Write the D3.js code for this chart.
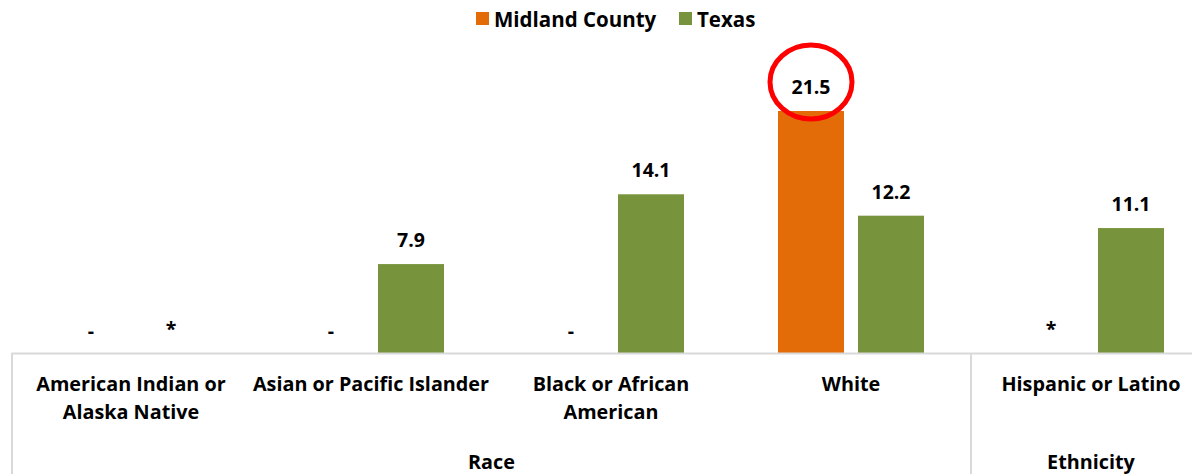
<!DOCTYPE html>
<html><head><meta charset="utf-8">
<script src="https://cdn.jsdelivr.net/npm/d3@7"></script>
<style>body{margin:0;background:#fff}svg{display:block}text{font-family:"Open Sans",Lato,sans-serif;font-weight:bold;fill:#000}</style>
</head><body><svg id="c" width="1192" height="474"></svg>
<script>
const categories = ["American Indian or\nAlaska Native","Asian or Pacific Islander","Black or African\nAmerican","White","Hispanic or Latino"];
const groups = ["Race","Race","Race","Race","Ethnicity"];
const seriesNames = ["Midland County","Texas"];
const midland = [null,null,null,21.5,null];
const midlandMarks = ["-","-","-","","*"];
const texas = [null,7.9,14.1,12.2,11.1];
const texasMarks = ["*","","","",""];
const colors = ["#E36C09","#77933C"];

const FS = 19.5;
const svg = d3.select("#c");
const baseY = 353;
const x0 = d3.scaleBand().domain(categories).range([11,1211]);
const x1 = d3.scaleBand().domain(seriesNames).range([47,193]).paddingInner(0.175);
const y = d3.scaleLinear().domain([0,21.5]).range([baseY,111]);

const series = [{name:seriesNames[0],vals:midland,marks:midlandMarks},{name:seriesNames[1],vals:texas,marks:texasMarks}];

series.forEach((s,si)=>{
  const g = svg.append("g");
  categories.forEach((c,i)=>{
    const v = s.vals[i];
    const bx = x0(c)+x1(s.name);
    const cx = bx + x1.bandwidth()/2;
    if(v!=null){
      g.append("rect").attr("x",bx).attr("y",y(v)).attr("width",x1.bandwidth()).attr("height",baseY-y(v)).attr("fill",colors[si]);
      g.append("text").attr("x",cx).attr("y",y(v)-17).attr("text-anchor","middle").attr("font-size",FS).text(v.toFixed(1));
    } else if(s.marks[i]){
      const m = s.marks[i];
      g.append("text").attr("x",cx).attr("y",m==="*"?336:338).attr("text-anchor","middle").attr("font-size",FS).text(m);
    }
  });
});

// highlight circle around Midland White label
const wx = x0(categories[3])+x1(seriesNames[0])+x1.bandwidth()/2;
svg.append("ellipse").attr("cx",wx).attr("cy",y(21.5)-29).attr("rx",41).attr("ry",37).attr("fill","none").attr("stroke","#FF0000").attr("stroke-width",5);

// axis lines
const grid = "#D9D9D9";
svg.append("line").attr("x1",11.5).attr("x2",1192).attr("y1",baseY+0.5).attr("y2",baseY+0.5).attr("stroke",grid).attr("stroke-width",2);
svg.append("line").attr("x1",12).attr("x2",12).attr("y1",baseY).attr("y2",474).attr("stroke",grid).attr("stroke-width",2);
const sepX = x0(categories[4]);
svg.append("line").attr("x1",sepX).attr("x2",sepX).attr("y1",baseY).attr("y2",474).attr("stroke",grid).attr("stroke-width",2);

// category labels
categories.forEach((c,i)=>{
  const t = svg.append("text").attr("text-anchor","middle").attr("font-size",FS+0.3);
  c.split("\n").forEach((ln,j)=>{
    t.append("tspan").attr("x",x0(c)+x0.bandwidth()/2).attr("y",391+j*28).text(ln);
  });
});
// group labels
const groupNames = [...new Set(groups)];
groupNames.forEach(gn=>{
  const idx = groups.map((g,i)=>g===gn?i:-1).filter(i=>i>=0);
  const left = x0(categories[idx[0]]);
  const right = x0(categories[idx[idx.length-1]])+x0.bandwidth();
  const cx = gn==="Race" ? (12+sepX)/2 : (left+right)/2;
  svg.append("text").attr("x",cx).attr("y",469).attr("text-anchor","middle").attr("font-size",FS+0.3).text(gn);
});

// legend
const legX = [476,679];
seriesNames.forEach((n,i)=>{
  svg.append("rect").attr("x",legX[i]).attr("y",12).attr("width",13).attr("height",13).attr("fill",colors[i]);
  svg.append("text").attr("x",legX[i]+18).attr("y",26.5).attr("font-size",20.5).text(n);
});
</script></body></html>
